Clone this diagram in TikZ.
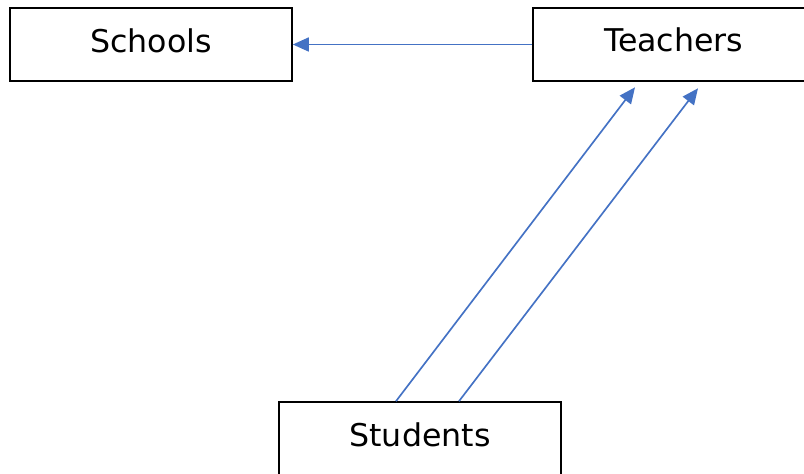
\documentclass[tikz,border=0pt]{standalone}
\usepackage{fontspec}
\setmainfont{DejaVu Sans}[FakeStretch=1.01]
\usetikzlibrary{arrows.meta,calc}
\definecolor{arrowblue}{RGB}{68,114,196}
\begin{document}
\begin{tikzpicture}[x=0.75pt,y=-0.75pt,
  box/.style={draw=black,line width=1.2pt,minimum width=211.5pt,minimum height=54.75pt,inner sep=0pt,fill=white},
  lbl/.style={anchor=base,inner sep=0pt,font=\fontsize{23.5pt}{27pt}\selectfont},
  conn/.style={draw=arrowblue,line width=1.25pt,-{Triangle[length=12pt,width=10.5pt]}}]
\useasboundingbox (0,0) rectangle (804,474);
\clip (0,0) rectangle (804,474);
\node[box] (schools) at (151,44.5) {};
\node[box] (teachers) at (673.7,44.5) {};
\node[box] (students) at (420,438.5) {};
\node[lbl] (schoolsT) at (151,52.5) {Schools};
\node[lbl] (teachersT) at (673.7,52) {Teachers};
\node[lbl] (studentsT) at (420,446) {Students};
\draw[conn] (teachers.west) -- (schools.east);
\draw[conn] ($(students.north)+(-24,0)$) -- ($(teachers.south)+(-38.7,5.5)$);
\draw[conn] ($(students.north)+(39,0)$) -- ($(teachers.south)+(24.3,6.5)$);
\end{tikzpicture}
\end{document}
